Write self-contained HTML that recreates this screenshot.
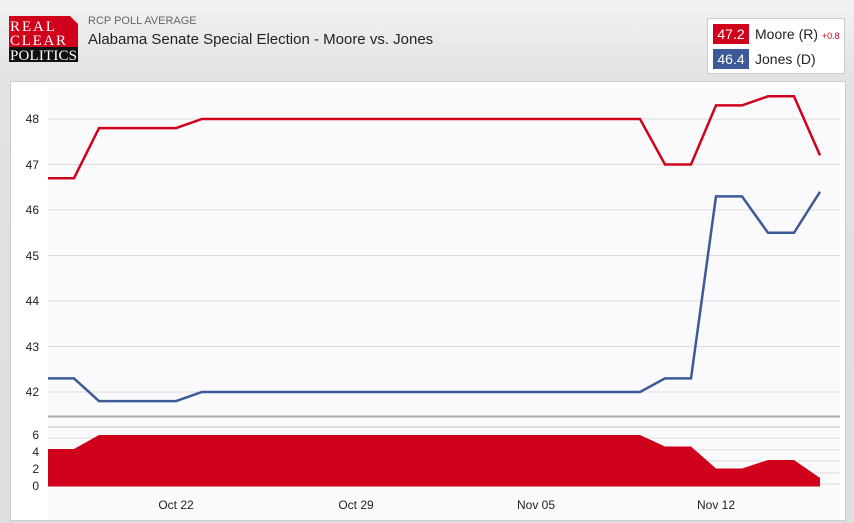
<!DOCTYPE html>
<html><head><meta charset="utf-8"><style>
html,body{margin:0;padding:0;}
body{width:854px;height:523px;overflow:hidden;background:linear-gradient(#f2f2f2,#e2e2e2 80px,#dedede);font-family:"Liberation Sans",Arial,sans-serif;position:relative;}
.logo{position:absolute;left:9px;top:16px;width:69px;height:46px;}
.sub{position:absolute;left:88px;top:15px;font-size:11px;color:#666;}
.title{position:absolute;left:88px;top:31px;font-size:15px;color:#222;}
.leg{position:absolute;left:707px;top:18px;width:138px;height:56px;background:#fff;border:1px solid #ccc;box-sizing:border-box;}
.row{position:absolute;left:5px;font-size:14px;color:#222;}
.b{display:inline-block;width:36px;height:20px;line-height:20px;text-align:center;color:#fff;font-size:14px;margin-right:6px;}
.panel{position:absolute;left:10px;top:81px;width:836px;height:440px;background:#fff;border:1px solid #ccc;box-sizing:border-box;}
</style></head><body>
<svg class="logo" width="69" height="46" viewBox="0 0 69 46"><rect width="69" height="46" fill="#d0021b"/><polygon points="61,0 69,0 69,8" fill="#e8e8e8"/><rect y="31" width="69" height="15" fill="#111"/>
<text x="1" y="15" font-family="Liberation Serif" font-size="15" fill="#fff" textLength="45">REAL</text>
<text x="1" y="29" font-family="Liberation Serif" font-size="15" fill="#fff" textLength="56">CLEAR</text>
<text x="1" y="44" font-family="Liberation Serif" font-size="15" fill="#fff" textLength="67">POLITICS</text></svg>
<div class="sub">RCP POLL AVERAGE</div>
<div class="title">Alabama Senate Special Election - Moore vs. Jones</div>
<div class="leg">
<div class="row" style="top:5px"><span class="b" style="background:#d0021b">47.2</span>Moore (R) <span style="color:#d0021b;font-size:9px">+0.8</span></div>
<div class="row" style="top:30px"><span class="b" style="background:#3d5a98">46.4</span>Jones (D)</div>
</div>
<div class="panel"></div>
<svg style="position:absolute;left:0;top:0" width="854" height="523">
<rect x="48" y="87" width="792" height="433" fill="#fafafc"/>
<g stroke="#dcdcdc" stroke-width="1">
<line x1="48" x2="840" y1="119" y2="119"/><line x1="48" x2="840" y1="164.5" y2="164.5"/><line x1="48" x2="840" y1="210" y2="210"/><line x1="48" x2="840" y1="255.5" y2="255.5"/><line x1="48" x2="840" y1="301" y2="301"/><line x1="48" x2="840" y1="346.5" y2="346.5"/><line x1="48" x2="840" y1="392" y2="392"/>
<line x1="48" x2="840" y1="427" y2="427" stroke-width="2"/><line x1="48" x2="840" y1="438" y2="438"/><line x1="48" x2="840" y1="450" y2="450"/><line x1="48" x2="840" y1="461" y2="461"/><line x1="48" x2="840" y1="473" y2="473"/><line x1="48" x2="840" y1="484" y2="484"/>
</g>
<line x1="48" x2="840" y1="416.5" y2="416.5" stroke="#aaa" stroke-width="2"/>
<g font-size="12" fill="#222" text-anchor="end">
<text x="39" y="123">48</text><text x="39" y="169">47</text><text x="39" y="214">46</text><text x="39" y="260">45</text><text x="39" y="305">44</text><text x="39" y="351">43</text><text x="39" y="396">42</text>
<text x="39" y="439">6</text><text x="39" y="456">4</text><text x="39" y="473">2</text><text x="39" y="490">0</text>
</g>
<g font-size="12" fill="#222" text-anchor="middle">
<text x="176" y="509">Oct 22</text><text x="356" y="509">Oct 29</text><text x="536" y="509">Nov 05</text><text x="716" y="509">Nov 12</text>
</g>
<polygon points="48,449 74,449 99,435 640,435 665,446.5 691,446.5 716,468.5 742,468.5 768,460 794,460 820,478 820,486.5 48,486.5" fill="#d0021b"/>
<polyline fill="none" stroke="#d0021b" stroke-width="2.5" points="48,178.2 74,178.2 99,128.1 176,128.1 202,119 640,119 665,164.5 691,164.5 716,105.4 742,105.4 768,96.3 794,96.3 820,155.4"/>
<polyline fill="none" stroke="#3d5a98" stroke-width="2.5" points="48,378.4 74,378.4 99,401.1 176,401.1 202,392 640,392 665,378.4 691,378.4 716,196.4 742,196.4 768,232.8 794,232.8 820,191.8"/>
</svg>
</body></html>
